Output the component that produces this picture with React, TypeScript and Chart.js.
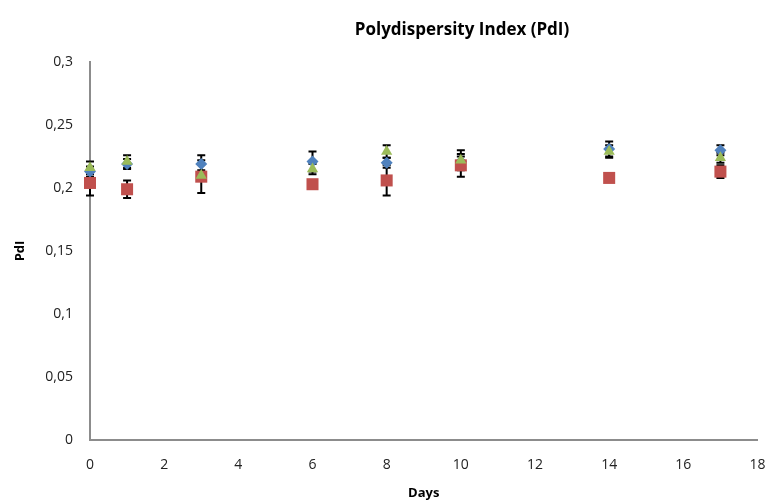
import React, { useEffect, useRef } from "react";
import { Chart, registerables } from "chart.js";

Chart.register(...registerables);

const days = [0, 1, 3, 6, 8, 10, 14, 17];
const blueValues = [0.213, 0.219, 0.219, 0.221, 0.220, 0.221, 0.231, 0.230];
const blueErrors = [0.004, 0.004, 0.007, 0.008, 0.004, 0.004, 0.006, 0.004];
const redValues = [0.204, 0.199, 0.209, 0.203, 0.206, 0.218, 0.208, 0.213];
const redErrors = [0.010, 0.007, 0.013, 0.003, 0.012, 0.009, 0.003, 0.005];
const greenValues = [0.216, 0.221, 0.210, 0.215, 0.229, 0.222, 0.229, 0.224];
const greenErrors = [0.005, 0.005, 0.004, 0.004, 0.005, 0.008, 0.005, 0.004];

const titleText = "Polydispersity Index (PdI)";
const xTitle = "Days";
const yTitle = "PdI";

const FONT = "'Open Sans', 'Liberation Sans', sans-serif";

const errorBarPlugin = {
  id: "errorBars",
  beforeDatasetsDraw(chart: any) {
    const ctx = chart.ctx;
    const xs = chart.scales.x;
    const ys = chart.scales.y;
    ctx.save();
    ctx.strokeStyle = "#000";
    ctx.lineWidth = 2;
    chart.data.datasets.forEach((ds: any) => {
      const errs: number[] = ds.errors || [];
      ds.data.forEach((p: any, i: number) => {
        const e = errs[i];
        if (!e) return;
        const x = xs.getPixelForValue(p.x);
        const yt = ys.getPixelForValue(p.y + e);
        const yb = ys.getPixelForValue(p.y - e);
        ctx.beginPath();
        ctx.moveTo(x, yt);
        ctx.lineTo(x, yb);
        ctx.moveTo(x - 4, yt);
        ctx.lineTo(x + 4, yt);
        ctx.moveTo(x - 4, yb);
        ctx.lineTo(x + 4, yb);
        ctx.stroke();
      });
    });
    ctx.restore();
  },
};

const titlePlugin = {
  id: "customTitle",
  afterDraw(chart: any) {
    const ctx = chart.ctx;
    ctx.save();
    ctx.font = `bold 17px ${FONT}`;
    ctx.fillStyle = "#000";
    ctx.textAlign = "center";
    ctx.textBaseline = "middle";
    ctx.fillText(titleText, 462, 30);
    ctx.restore();
  },
};

const toPoints = (vals: number[]) => vals.map((v, i) => ({ x: days[i], y: v }));

export default function App() {
  const ref = useRef<HTMLCanvasElement | null>(null);
  useEffect(() => {
    if (!ref.current) return;
    const chart = new Chart(ref.current, {
      type: "scatter",
      data: {
        datasets: [
          {
            label: "C",
            data: toPoints(greenValues),
            errors: greenErrors,
            pointStyle: "triangle",
            pointRadius: 6.5,
            backgroundColor: "#9BBB59",
            borderColor: "#9BBB59",
            borderWidth: 0,
            clip: false,
          } as any,
          {
            label: "B",
            data: toPoints(redValues),
            errors: redErrors,
            pointStyle: "rect",
            pointRadius: 8.5,
            backgroundColor: "#C0504D",
            borderColor: "#C0504D",
            borderWidth: 0,
            clip: false,
          } as any,
          {
            label: "A",
            data: toPoints(blueValues),
            errors: blueErrors,
            pointStyle: "rectRot",
            pointRadius: 6,
            backgroundColor: "#4F81BD",
            borderColor: "#4F81BD",
            borderWidth: 0,
            clip: false,
          } as any,
        ],
      },
      options: {
        animation: false,
        responsive: false,
        layout: { padding: { top: 62, right: 8, left: 0, bottom: 0 } },
        plugins: {
          legend: { display: false },
          tooltip: { enabled: false },
          title: { display: false },
        },
        scales: {
          x: {
            type: "linear",
            min: 0,
            max: 18,
            ticks: {
              stepSize: 2,
              color: "#222",
              font: { family: FONT, size: 14 },
              padding: 17,
              maxRotation: 0,
            },
            grid: { display: false, drawTicks: false },
            border: { color: "#8c8c8c", width: 2 },
            title: {
              display: true,
              text: xTitle,
              color: "#000",
              font: { family: FONT, size: 13, weight: "bold" },
              padding: { top: 4, bottom: 0 },
            },
            afterFit(scale: any) {
              scale.height = 61;
              scale.paddingLeft = 0;
              scale.paddingRight = 0;
            },
          },
          y: {
            min: 0,
            max: 0.3,
            ticks: {
              stepSize: 0.05,
              color: "#222",
              font: { family: FONT, size: 14 },
              padding: 17,
              callback: (v: any) => String(Math.round(Number(v) * 100) / 100).replace(".", ","),
            },
            grid: { display: false, drawTicks: false },
            border: { color: "#8c8c8c", width: 2 },
            title: {
              display: true,
              text: yTitle,
              color: "#000",
              font: { family: FONT, size: 13, weight: "bold" },
              padding: { top: 12, bottom: 0 },
            },
            afterFit(scale: any) {
              scale.width = 90;
              scale.paddingTop = 0;
              scale.paddingBottom = 0;
            },
          },
        },
      } as any,
      plugins: [errorBarPlugin, titlePlugin],
    });
    return () => chart.destroy();
  }, []);
  return (
    <div style={{ position: "fixed", left: 0, top: 0, width: 766, height: 501, background: "#fff" }}>
      <canvas ref={ref} width={766} height={501} />
    </div>
  );
}
